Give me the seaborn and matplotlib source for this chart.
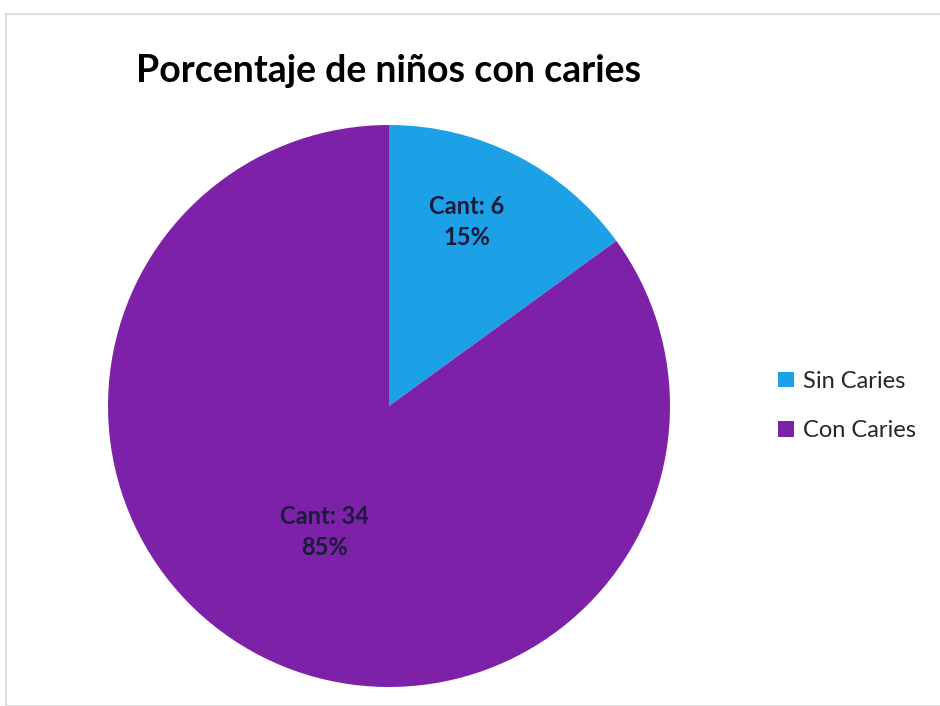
import matplotlib
matplotlib.use("Agg")
import matplotlib.pyplot as plt
import seaborn as sns
from matplotlib.patches import Rectangle, Patch

sns.set_theme(style="white")
plt.rcParams['font.family'] = ['Lato', 'DejaVu Sans']

categories = ["Sin Caries", "Con Caries"]
counts = [6, 34]
percents = [15, 85]
colors = ["#1ca0e6", "#7d22a8"]
title = "Porcentaje de niños con caries"

fig = plt.figure(figsize=(9.4, 7.06), dpi=100)
fig.patch.set_facecolor("white")
fig.add_artist(Rectangle((6/940, 0), 1, 1 - 14/706, transform=fig.transFigure,
                         fill=False, edgecolor="#d8d8d8", linewidth=1.2))

ax = fig.add_axes([(389 - 281) / 940, (706 - 406 - 281) / 706, 562 / 940, 562 / 706])
wedges, _ = ax.pie(counts, colors=colors, startangle=90, counterclock=False,
                   radius=1, wedgeprops=dict(linewidth=0))
ax.set_xlim(-1, 1)
ax.set_ylim(-1, 1)
ax.set_aspect("equal")
ax.axis("off")

label_pos = [(0.278, 0.655), (-0.228, -0.448)]
for (x, y), c, p in zip(label_pos, counts, percents):
    ax.text(x, y, f"Cant: {c}\n{p}%", ha="center", va="center", fontsize=17,
            fontweight="bold", color="#1a1a3a", linespacing=1.4)

fig.text(389 / 940, 1 - 71 / 706, title, ha="center", va="center",
         fontsize=27, fontweight="bold", color="black")

handles = [Patch(facecolor=c, edgecolor="none") for c in colors]
fig.legend(handles, categories, loc="center left", bbox_to_anchor=(757 / 940, 1 - 406 / 706),
           frameon=False, fontsize=17, handlelength=0.65, handleheight=0.65,
           handletextpad=0.4, labelspacing=1.2)

fig.savefig("out.png", dpi=100)
